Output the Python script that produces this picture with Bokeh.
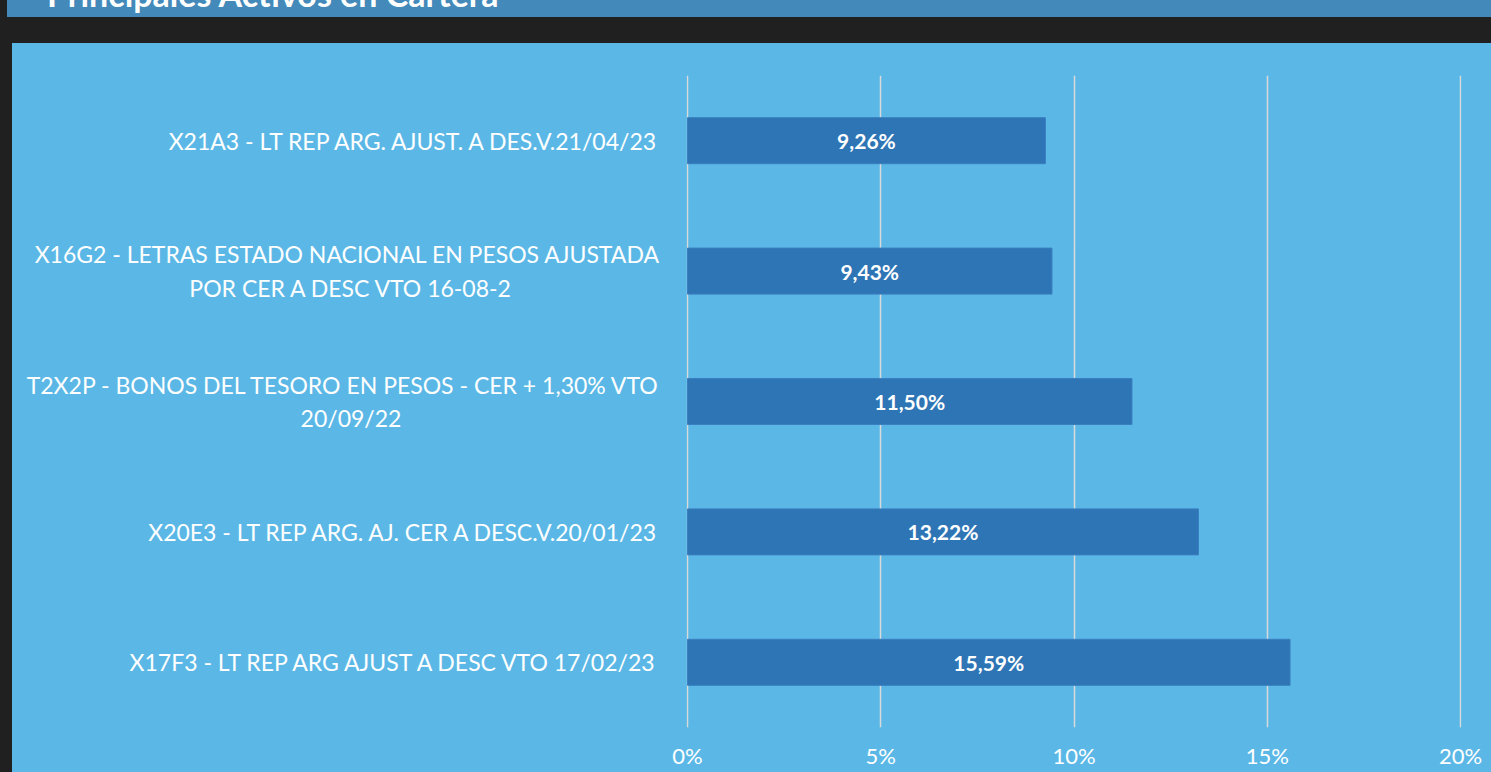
from bokeh.plotting import figure
from bokeh.models import Range1d, FactorRange, FixedTicker, PrintfTickFormatter, Div, ColumnDataSource
from bokeh.layouts import column
from bokeh.core.properties import value
from bokeh.embed import file_html
from bokeh.resources import INLINE

title_text = "Principales Activos en Cartera"
categories = [
    "X21A3 - LT REP ARG. AJUST. A DES.V.21/04/23",
    "X16G2 - LETRAS ESTADO NACIONAL EN PESOS AJUSTADA\nPOR CER A DESC VTO 16-08-2",
    "T2X2P - BONOS DEL TESORO EN PESOS - CER + 1,30% VTO\n20/09/22",
    "X20E3 - LT REP ARG. AJ. CER A DESC.V.20/01/23",
    "X17F3 - LT REP ARG AJUST A DESC VTO 17/02/23",
]
values = [9.26, 9.43, 11.50, 13.22, 15.59]
x_ticks = [0, 5, 10, 15, 20]

labels = [f"{v:.2f}".replace(".", ",") + "%" for v in values]

# second lines of two-line labels are centred under the first line:
# pad them on the right with no-break spaces (axis labels are right-aligned)
NBSP = "\u00a0"
pad_counts = [0, 25, 44, 0, 0]
cat_display = [c + NBSP * n for c, n in zip(categories, pad_counts)]

FONT = "Lato"
PANEL = "#5bb8e6"
DARK = "#202020"

src = ColumnDataSource(dict(cat=cat_display, val=values, mid=[v / 2 for v in values], lab=labels))

px_per_unit = 773 / 20.0
pad = 1 / px_per_unit

p = figure(
    width=1479, height=729,
    y_range=FactorRange(*reversed(cat_display)),
    x_range=Range1d(-pad, 20 + pad),
    output_backend="svg", toolbar_location=None,
    min_border_left=674, min_border_right=30, min_border_top=32, min_border_bottom=45,
)
p.margin = (0, 0, 0, 12)
p.styles = {"background-color": PANEL}
p.background_fill_color = PANEL
p.border_fill_color = PANEL
p.outline_line_color = None

p.hbar(y="cat", right="val", left=0, height=0.353, source=src,
       fill_color="#2e75b6", line_color="#3a7fc0", line_width=1)
p.text(x="mid", y="cat", text="lab", source=src,
       text_align="center", text_baseline="middle",
       text_color="white", text_font=value(FONT), text_font_style="bold",
       text_font_size="21px")

p.xaxis.ticker = FixedTicker(ticks=x_ticks)
p.xaxis.formatter = PrintfTickFormatter(format="%d%%")
p.xaxis.axis_line_color = None
p.xaxis.major_tick_line_color = None
p.xaxis.minor_tick_line_color = None
p.xaxis.major_label_standoff = 8
p.xaxis.major_label_text_color = "white"
p.xaxis.major_label_text_font = FONT
p.xaxis.major_label_text_font_size = "22px"

p.yaxis.axis_line_color = None
p.yaxis.major_tick_line_color = None
p.yaxis.minor_tick_line_color = None
p.yaxis.major_label_standoff = 20
p.yaxis.major_label_text_color = "white"
p.yaxis.major_label_text_font = FONT
p.yaxis.major_label_text_font_size = "23px"

p.xgrid.grid_line_color = "#d9d9d9"
p.xgrid.grid_line_width = 1.5
p.ygrid.grid_line_color = None

header = Div(
    text=(
        '<div style="position:relative;width:1491px;height:43px;background:%s;overflow:hidden;">'
        '<div style="position:absolute;left:7px;top:0;width:1484px;height:17px;background:#4389b9;overflow:hidden;">'
        '<span style="position:absolute;left:40px;top:-23px;line-height:34px;font-family:Lato;font-weight:bold;'
        'font-size:34px;color:white;white-space:nowrap;">%s</span></div></div>' % (DARK, title_text)
    ),
    width=1491, height=43, margin=(0, 0, 0, 0),
)

layout = column(header, p, spacing=0, styles={"background-color": DARK})

open("out.html", "w").write(file_html(layout, INLINE))
